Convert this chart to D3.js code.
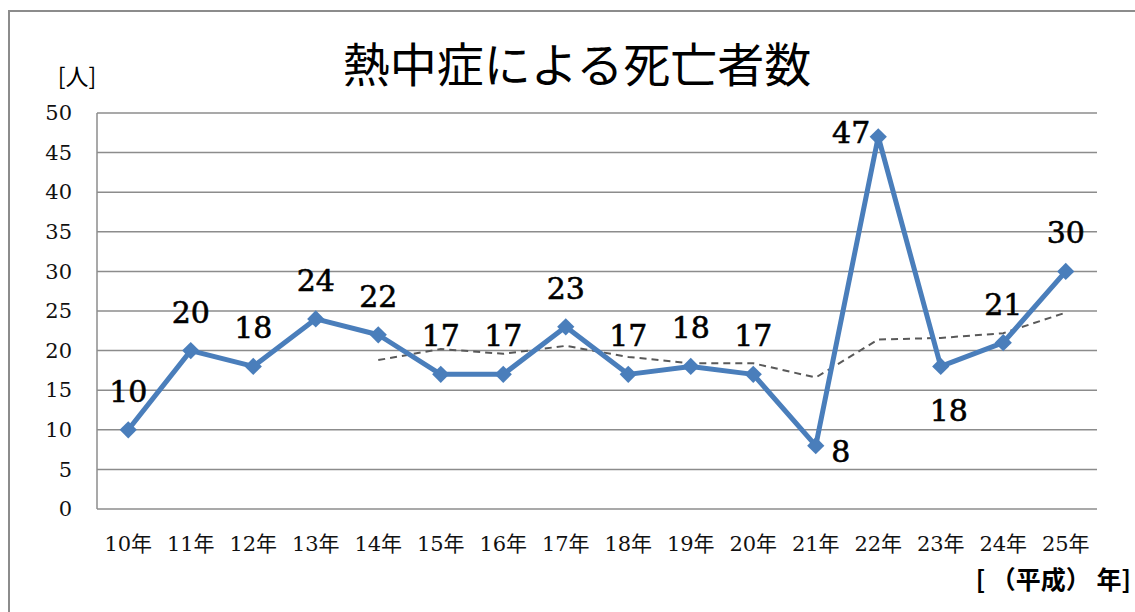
<!DOCTYPE html>
<html>
<head>
<meta charset="utf-8">
<script src="https://cdn.jsdelivr.net/npm/d3@7"></script>
<style>
  body { margin: 0; background: #fff; }
  svg { display: block; }
  .tick-label { font-family: "DejaVu Serif", "Noto Sans CJK JP", serif; font-size: 21px; fill: #111; }
  .data-label { font-family: "DejaVu Serif", serif; font-size: 30px; fill: #000; stroke: #000; stroke-width: 0.6px; }
  .cjk { font-family: "Noto Sans CJK JP", sans-serif; fill: #000; }
</style>
</head>
<body>
<div id="chart"></div>
<script>
// --- data ---
const years    = ['10年', '11年', '12年', '13年', '14年', '15年', '16年', '17年',
                  '18年', '19年', '20年', '21年', '22年', '23年', '24年', '25年'];
const deaths   = [10, 20, 18, 24, 22, 17, 17, 23, 17, 18, 17, 8, 47, 18, 21, 30];
// 5-year moving average (dashed), starts at 14年
const trend    = [null, null, null, null, 18.8, 20.2, 19.6, 20.6, 19.2, 18.4, 18.4, 16.6, 21.4, 21.6, 22.2, 24.8];
const labelPos = ['above', 'above', 'above', 'above', 'above', 'above', 'above', 'above',
                  'above', 'above', 'above', 'right', 'left', 'below', 'above', 'above'];
const yTicks   = [0, 5, 10, 15, 20, 25, 30, 35, 40, 45, 50];

const W = 1135, H = 612;
const m = { top: 113, right: 38, bottom: 103, left: 97 };
const iw = W - m.left - m.right;
const ih = H - m.top - m.bottom;

const svg = d3.select('#chart').append('svg')
  .attr('width', W).attr('height', H);

// outer frame (clipped on right/bottom like the source)
svg.append('path')
  .attr('d', `M9,${H} L9,11 L${W},11`)
  .attr('fill', 'none').attr('stroke', '#8c8c8c').attr('stroke-width', 2);

const g = svg.append('g').attr('transform', `translate(${m.left},${m.top})`);

const x = d3.scaleBand().domain(years).range([0, iw]);
const y = d3.scaleLinear().domain([0, 50]).range([ih, 0]);
const cx = d => x(d) + x.bandwidth() / 2;

// gridlines
g.selectAll('.grid').data(yTicks).join('line')
  .attr('class', 'grid')
  .attr('x1', 0).attr('x2', iw)
  .attr('y1', d => y(d)).attr('y2', d => y(d))
  .attr('stroke', '#8c8c8c').attr('stroke-width', 1.5);

// left axis line
g.append('line')
  .attr('x1', 0).attr('x2', 0).attr('y1', 0).attr('y2', ih)
  .attr('stroke', '#8c8c8c').attr('stroke-width', 1.5);

// y tick labels
const yAxis = g.append('g').call(d3.axisLeft(y).tickValues(yTicks).tickSize(0).tickPadding(25));
yAxis.attr('font-size', null).attr('font-family', null);
yAxis.select('.domain').remove();
yAxis.selectAll('text').attr('class', 'tick-label').attr('fill', null);

// x tick labels
const xAxis = g.append('g').attr('transform', `translate(0,${ih})`)
  .call(d3.axisBottom(x).tickSize(0).tickPadding(27));
xAxis.attr('font-size', null).attr('font-family', null);
xAxis.select('.domain').remove();
xAxis.selectAll('text').attr('class', 'tick-label').attr('fill', null);

// trend (dashed)
const trendData = years.map((k, i) => ({ k, v: trend[i] })).filter(d => d.v != null);
g.append('path')
  .datum(trendData)
  .attr('fill', 'none')
  .attr('stroke', '#595959').attr('stroke-width', 2)
  .attr('stroke-dasharray', '7,5')
  .attr('d', d3.line().x(d => cx(d.k)).y(d => y(d.v)));

// main series
const pts = years.map((k, i) => ({ k, v: deaths[i], pos: labelPos[i] }));
g.append('path')
  .datum(pts)
  .attr('fill', 'none')
  .attr('stroke', '#4a7ebb').attr('stroke-width', 5)
  .attr('stroke-linejoin', 'round')
  .attr('d', d3.line().x(d => cx(d.k)).y(d => y(d.v)));

g.selectAll('.marker').data(pts).join('path')
  .attr('class', 'marker')
  .attr('d', d3.symbol(d3.symbolDiamond2, 190))
  .attr('transform', d => `translate(${cx(d.k)},${y(d.v)})`)
  .attr('fill', '#4a7ebb');

// data labels
const offs = {
  above: { dx: 0,   dy: -28, anchor: 'middle' },
  below: { dx: 8,   dy: 55,  anchor: 'middle' },
  right: { dx: 25,  dy: 16,  anchor: 'middle' },
  left:  { dx: -8,  dy: 6,   anchor: 'end' }
};
g.selectAll('.data-label').data(pts).join('text')
  .attr('class', 'data-label')
  .attr('x', d => cx(d.k) + offs[d.pos].dx)
  .attr('y', d => y(d.v) + offs[d.pos].dy)
  .attr('text-anchor', d => offs[d.pos].anchor)
  .text(d => d.v);

// title & axis units
svg.append('text').attr('class', 'cjk')
  .attr('x', 577).attr('y', 82)
  .attr('text-anchor', 'middle')
  .attr('font-size', 47)
  .text('熱中症による死亡者数');

svg.append('text').attr('class', 'cjk')
  .attr('x', 77).attr('y', 85)
  .attr('text-anchor', 'middle')
  .attr('font-size', 23)
  .text('[人]');

svg.append('text').attr('class', 'cjk')
  .attr('x', 1131).attr('y', 589)
  .attr('text-anchor', 'end')
  .attr('font-size', 25)
  .attr('font-weight', 'bold')
  .text('[ （平成） 年]');
</script>
</body>
</html>
